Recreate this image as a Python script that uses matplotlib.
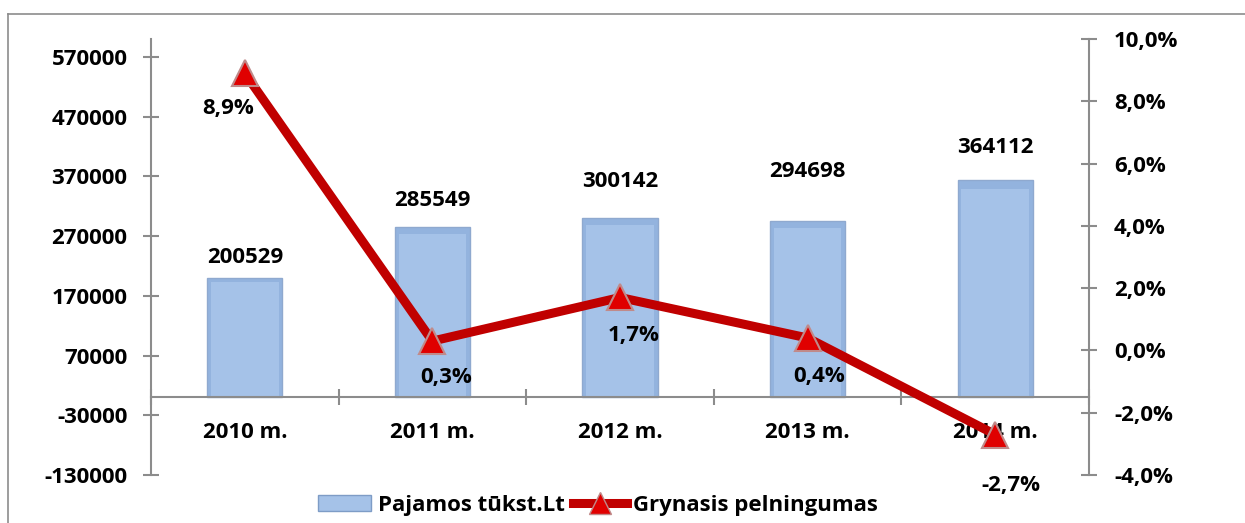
import matplotlib
matplotlib.use("Agg")
import matplotlib.pyplot as plt
from matplotlib.lines import Line2D
from matplotlib.patches import Patch
import numpy as np

categories = ["2010 m.", "2011 m.", "2012 m.", "2013 m.", "2014 m."]
revenue = [200529, 285549, 300142, 294698, 364112]
margin = [8.9, 0.3, 1.7, 0.4, -2.7]
left_ticks = [-130000, -30000, 70000, 170000, 270000, 370000, 470000, 570000]
right_ticks = [-4, -2, 0, 2, 4, 6, 8, 10]
series_names = ["Pajamos tūkst.Lt", "Grynasis pelningumas"]

plt.rcParams['font.family'] = ['Open Sans', 'DejaVu Sans']
plt.rcParams['font.weight'] = 'bold'
FS = 16

W, H = 1245, 523
fig = plt.figure(figsize=(W / 100, H / 100), dpi=100)
ax = fig.add_axes([151 / W, 1 - 475 / H, (1089 - 151) / W, (475 - 39) / H])
ax2 = ax.twinx()

x = np.arange(len(categories))
bars = ax.bar(x, revenue, width=0.4, color='#93B3DE', edgecolor='#8FA9CF',
              linewidth=1.0, zorder=2)
# bevel highlight
for b in bars:
    bx, by, bw, bh = b.get_x(), b.get_y(), b.get_width(), b.get_height()
    ax.bar(bx + bw / 2, bh * 0.96, bottom=by, width=bw * 0.9, color='#A5C2E8',
           linewidth=0, zorder=2.1)

ax.set_xlim(-0.5, len(categories) - 0.5)
ax.set_ylim(-130000, 600000)
ax.set_yticks(left_ticks)
ax.set_yticklabels([str(v) for v in left_ticks])

ax2.set_ylim(-4, 10)
ax2.set_yticks(right_ticks)
ax2.set_yticklabels([f"{v:.1f}%".replace('.', ',') for v in right_ticks])

grey = '#8C8C8C'
for a in (ax, ax2):
    a.spines['top'].set_visible(False)
ax.spines['right'].set_visible(False)
ax2.spines['left'].set_visible(False)
ax2.spines['bottom'].set_visible(False)
ax.spines['left'].set_color(grey)
ax.spines['left'].set_linewidth(1.5)
ax2.spines['right'].set_color(grey)
ax2.spines['right'].set_linewidth(1.5)
ax.spines['bottom'].set_position(('data', 0))
ax.spines['bottom'].set_color(grey)
ax.spines['bottom'].set_linewidth(1.5)

ax.tick_params(axis='y', direction='inout', length=12, width=1.5, color=grey,
               labelsize=FS, pad=11)
ax2.tick_params(axis='y', direction='inout', length=12, width=1.5, color=grey,
                labelsize=FS, pad=12)
ax.set_xticks(np.arange(len(categories) + 1) - 0.5)
ax.set_xticklabels([])
ax.tick_params(axis='x', which='major', direction='inout', length=12, width=1.5,
               color=grey)
ax.set_xticks(x, minor=True)
ax.set_xticklabels(categories, minor=True)
ax.tick_params(axis='x', which='minor', length=0, labelsize=FS, pad=18)
for t in ax.get_yticklabels() + ax2.get_yticklabels() + ax.get_xticklabels(minor=True):
    t.set_fontweight('bold')

ax2.plot(x, margin, color='#C00000', linewidth=6.5, zorder=3,
         marker='^', markersize=19, markerfacecolor='#E00000',
         markeredgecolor='#C08A8A', markeredgewidth=1.5, solid_capstyle='round')

# bar labels (pixel offsets above bar tops)
bar_off = [20, 26, 37, 50, 32]
for i, v in enumerate(revenue):
    ax.annotate(str(v), (x[i], v), xytext=(0, bar_off[i] * 0.72),
                textcoords='offset points', ha='center', va='center',
                fontsize=FS, fontweight='bold', zorder=5)

line_off = [(-17, -35), (14, -36), (14, -38), (12, -39), (16, -51)]
for i, v in enumerate(margin):
    dx, dy = line_off[i]
    ax2.annotate(f"{v:.1f}%".replace('.', ','), (x[i], v),
                 xytext=(dx * 0.72, dy * 0.72), textcoords='offset points',
                 ha='center', va='center', fontsize=FS, fontweight='bold',
                 zorder=5)

# chart border (top and left)
fig.add_artist(Line2D([8 / W, 8 / W], [0, 1 - 14 / H], transform=fig.transFigure,
                      color='#8C8C8C', linewidth=1.2))
fig.add_artist(Line2D([8 / W, 1], [1 - 14 / H, 1 - 14 / H], transform=fig.transFigure,
                      color='#8C8C8C', linewidth=1.2))

handles = [Patch(facecolor='#A5C2E8', edgecolor='#7E9CC6'),
           Line2D([], [], color='#C00000', linewidth=6.5, marker='^', markersize=16,
                  markerfacecolor='#E00000', markeredgecolor='#C08A8A')]
leg = fig.legend(handles, series_names, loc='center', ncol=2,
                 bbox_to_anchor=(598 / W, 1 - 505 / H), frameon=False,
                 prop={'size': FS, 'weight': 'bold'}, handlelength=2.4,
                 columnspacing=0.4, handletextpad=0.3)

fig.savefig('out.png', dpi=100)
